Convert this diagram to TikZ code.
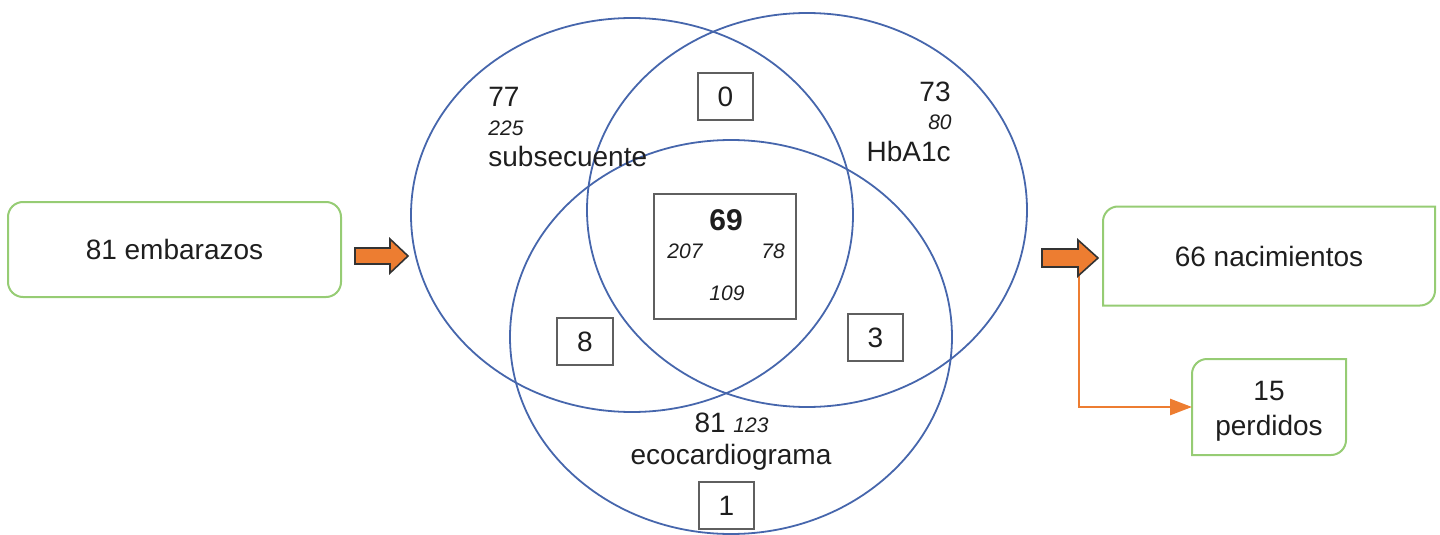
\documentclass[tikz,border=0pt]{standalone}
\usepackage{fontspec}
\setmainfont{Liberation Sans}
\usetikzlibrary{arrows.meta,calc}
\definecolor{vennblue}{RGB}{70,102,172}
\definecolor{boxgreen}{RGB}{150,204,116}
\definecolor{arrorange}{RGB}{237,125,49}
\definecolor{txt}{RGB}{30,30,30}
\definecolor{sqgray}{RGB}{95,95,95}
\begin{document}
\begin{tikzpicture}[x=0.5pt,y=-0.5pt,
  every node/.style={text=txt},
  venn/.style={draw=vennblue, line width=0.9pt},
  gbox/.style={draw=boxgreen, line width=1pt},
  big/.style={font=\fontsize{14}{17.5}\selectfont},
  num/.style={font=\fontsize{10.5}{12}\selectfont\itshape},
  sq/.style={draw=sqgray, line width=0.8pt, inner sep=0pt, font=\fontsize{14}{17}\selectfont},
  blockarr/.style={fill=arrorange, draw=black!80, line width=0.8pt, line join=miter},
  oline/.style={draw=arrorange, line width=1.4pt, -{Triangle[length=11pt,width=8pt]}},
  lbl/.style={inner sep=0pt}
]
\useasboundingbox (0,0) rectangle (1440,535);

% Venn ellipses
\draw[venn] (632,215) ellipse [x radius=110.5pt, y radius=98.5pt];
\draw[venn] (807,210) ellipse [x radius=110pt, y radius=98.5pt];
\draw[venn] (731,337) ellipse [x radius=110.5pt, y radius=98.5pt];

% left box
\node[gbox, rounded corners=7.5pt, minimum width=166.5pt, minimum height=47.5pt, big] (emb) at (174.5,249.5) {81 embarazos};

% right boxes
\node[minimum width=166pt, minimum height=49.5pt, big, outer sep=0pt] (nac) at (1269,256) {66 nacimientos};
\draw[gbox] (nac.south west) -- ([yshift=-7.5pt]nac.north west)
  arc[start angle=180, end angle=90, radius=7.5pt] -- (nac.north east)
  -- ([yshift=7.5pt]nac.south east) arc[start angle=0, end angle=-90, radius=7.5pt] -- cycle;

\node[minimum width=77pt, minimum height=48pt, outer sep=0pt] (per) at (1269,407) {};
\node[big, align=center] (pertxt) at (1269,411) {15\\perdidos};
\draw[gbox] (per.south west) -- ([yshift=-7.5pt]per.north west)
  arc[start angle=180, end angle=90, radius=7.5pt] -- (per.north east)
  -- ([yshift=7.5pt]per.south east) arc[start angle=0, end angle=-90, radius=7.5pt] -- cycle;

% orange connector
\coordinate (br) at (1079,266);
\draw[oline] (br) |- (per.west);

% block arrows
\draw[blockarr] (355,248) -- (390,248) -- (390,239) -- (408,256) -- (390,273) -- (390,264) -- (355,264) -- cycle;
\draw[blockarr] (1042,249) -- (1078,249) -- (1078,240) -- (1098,258) -- (1078,276) -- (1078,267) -- (1042,267) -- cycle;

% set labels
\node[big, lbl, anchor=base west] (t77) at (488,107) {77};
\node[num, lbl, anchor=base west] (t225) at (488,135) {225};
\node[big, lbl, anchor=base west] (tsub) at (488,167) {subsecuente};
\node[big, lbl, anchor=base east] (t73) at (951,102) {73};
\node[num, lbl, anchor=base east] (t80) at (952,130) {80};
\node[big, lbl, anchor=base east] (thb) at (951,162) {HbA1c};
\node[big, lbl, anchor=base] (t81) at (731.5,432) {81 {\fontsize{10.5}{12}\selectfont\itshape 123}};
\node[big, lbl, anchor=base] (teco) at (731,464) {ecocardiograma};

% core box
\node[draw=sqgray, line width=0.8pt, minimum width=71pt, minimum height=62.5pt] (core) at (725,256.5) {};
\node[lbl, font=\fontsize{15}{18}\selectfont\bfseries, anchor=base] (t69) at (726,230) {69};
\node[num, lbl, anchor=base] (t207) at (685,258) {207};
\node[num, lbl, anchor=base] (t78) at (773,258) {78};
\node[num, lbl, anchor=base] (t109) at (727,300) {109};

% small boxes
\node[sq, minimum width=27.5pt, minimum height=23.5pt] (b0) at (725.5,96.5) {0};
\node[sq, minimum width=28pt, minimum height=23.5pt] (b8) at (585,341.5) {8};
\node[sq, minimum width=27.5pt, minimum height=23.5pt] (b3) at (875.5,337.5) {3};
\node[sq, minimum width=27.5pt, minimum height=23.5pt] (b1) at (726.5,505.5) {1};
\end{tikzpicture}
\end{document}
